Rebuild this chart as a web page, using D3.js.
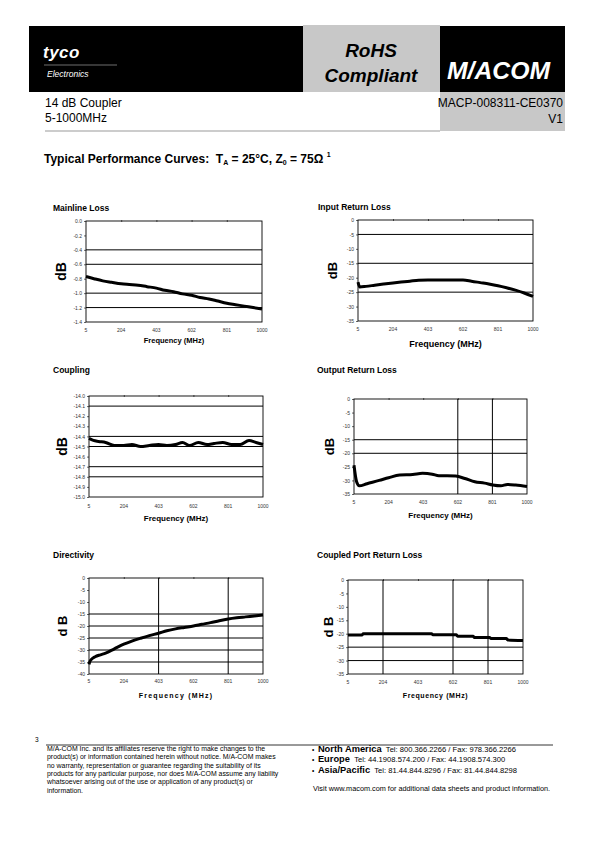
<!DOCTYPE html>
<html><head><meta charset="utf-8">
<script src="https://cdn.jsdelivr.net/npm/d3@7"></script>
<style>body{margin:0;background:#fff} svg{display:block;font-family:"Liberation Sans",Arial,sans-serif}</style>
</head><body><svg id="c" width="595" height="842"></svg>
<script>
// ---------- DATA ----------
const xTicks = [5, 204, 403, 602, 801, 1000];

const mainlineFreq = [5,50,100,150,204,250,300,350,403,450,500,550,602,650,700,750,801,850,900,950,1000];
const mainlineLoss = [-0.77,-0.80,-0.83,-0.85,-0.87,-0.88,-0.89,-0.91,-0.93,-0.96,-0.98,-1.01,-1.03,-1.06,-1.08,-1.11,-1.14,-1.16,-1.18,-1.20,-1.22];
const mainlineTicks = [0,-0.2,-0.4,-0.6,-0.8,-1.0,-1.2,-1.4];

const inputFreq = [5,15,50,100,150,204,250,300,350,403,450,500,550,602,650,700,750,801,850,900,950,1000];
const inputRL = [-21.5,-23.2,-23.0,-22.6,-22.2,-21.8,-21.5,-21.2,-20.9,-20.8,-20.8,-20.8,-20.8,-20.8,-21.2,-21.7,-22.2,-22.8,-23.5,-24.3,-25.3,-26.5];
const rlTicks = [0,-5,-10,-15,-20,-25,-30,-35];

const couplingFreq = [5,30,60,100,150,204,250,300,350,403,450,500,540,580,630,680,720,770,820,870,920,960,1000];
const coupling = [-14.42,-14.44,-14.45,-14.46,-14.49,-14.49,-14.48,-14.50,-14.49,-14.48,-14.49,-14.48,-14.46,-14.49,-14.46,-14.48,-14.47,-14.46,-14.48,-14.48,-14.44,-14.46,-14.48];
const couplingTicks = [-14.0,-14.1,-14.2,-14.3,-14.4,-14.5,-14.6,-14.7,-14.8,-14.9,-15.0];

const outputFreq = [5,20,35,80,150,204,268,343,399,455,493,540,590,643,700,756,803,850,887,935,1000];
const outputRL = [-24.4,-30.5,-32.0,-31.2,-30.0,-29.0,-28.0,-27.8,-27.4,-27.7,-28.3,-28.3,-28.4,-29.3,-30.5,-31.0,-31.7,-32.0,-31.5,-31.7,-32.2];

const dirFreq = [5,10,20,40,70,100,150,204,250,300,350,403,450,500,550,602,650,700,750,801,850,900,950,1000];
const directivity = [-36,-34.8,-33.8,-32.8,-32,-31.3,-29.5,-27.6,-26.3,-25.1,-24,-23,-22,-21.2,-20.6,-20,-19.3,-18.6,-17.8,-17.1,-16.6,-16.2,-15.8,-15.4];
const dirTicks = [0,-5,-10,-15,-20,-25,-30,-35,-40];

const cplPortFreq = [5,84,92,480,488,620,628,716,724,810,818,905,913,1000];
const cplPortRL = [-20.5,-20.5,-20.0,-20.0,-20.4,-20.4,-20.9,-20.9,-21.4,-21.4,-21.8,-21.8,-22.3,-22.5];

// ---------- LAYOUT ----------
const charts = [
  {title:"Mainline Loss", tx:53, ty:211, x0:86, x1:262, y0:221, y1:322, freq:mainlineFreq, vals:mainlineLoss, ticks:mainlineTicks,
   fmt:d=>d.toFixed(1), gridY:[-0.4,-0.6,-1.0,-1.2], gridX:[], db:"dB", dbX:66, dbSize:14, xLabY:332, fY:343, fSize:7.5, fSp:0},
  {title:"Input Return Loss", tx:318, ty:210, x0:358, x1:533, y0:220, y1:321, freq:inputFreq, vals:inputRL, ticks:rlTicks,
   fmt:d=>String(d), gridY:[-5,-15,-25], gridX:[], db:"dB", dbX:337, dbSize:13, xLabY:331, fY:347, fSize:9, fSp:0},
  {title:"Coupling", tx:53, ty:373, x0:89, x1:263, y0:396, y1:497, freq:couplingFreq, vals:coupling, ticks:couplingTicks,
   fmt:d=>d.toFixed(1), gridY:[-14.1,-14.4,-14.5,-14.7,-14.8], gridX:[], db:"dB", dbX:67, dbSize:14, xLabY:508, fY:521, fSize:8, fSp:0},
  {title:"Output Return Loss", tx:317, ty:373, x0:354, x1:527, y0:399, y1:494, freq:outputFreq, vals:outputRL, ticks:rlTicks,
   fmt:d=>String(d), gridY:[-15,-20], gridX:[602,801], db:"dB", dbX:334, dbSize:13, xLabY:504, fY:518, fSize:8, fSp:0},
  {title:"Directivity", tx:53, ty:558, x0:89, x1:263, y0:578, y1:674, freq:dirFreq, vals:directivity, ticks:dirTicks,
   fmt:d=>String(d), gridY:[-15,-20,-25,-30,-35], gridX:[403,801], db:"d B", dbX:67, dbSize:13, xLabY:683, fY:698, fSize:7, fSp:1.2},
  {title:"Coupled Port Return Loss", tx:317, ty:558, x0:348, x1:523, y0:580, y1:674, freq:cplPortFreq, vals:cplPortRL, ticks:rlTicks,
   fmt:d=>String(d), gridY:[-25,-30], gridX:[204,602,801], db:"d B", dbX:333, dbSize:13, xLabY:684, fY:698, fSize:7, fSp:0.6}
];

const svg = d3.select("#c");

// ---------- HEADER ----------
svg.append("rect").attr("x",29).attr("y",26).attr("width",536).attr("height",66).attr("fill","#000");
svg.append("rect").attr("x",303).attr("y",25).attr("width",137).attr("height",67).attr("fill","#c8c8c8");
svg.append("text").attr("x",43).attr("y",58).attr("fill","#fff").attr("font-size",17).attr("font-weight","bold").attr("font-style","italic").attr("letter-spacing",0.5).text("tyco");
svg.append("line").attr("x1",44).attr("x2",117).attr("y1",65).attr("y2",65).attr("stroke","#bbb").attr("stroke-width",0.6);
svg.append("text").attr("x",47).attr("y",77).attr("fill","#fff").attr("font-size",8.5).attr("font-style","italic").text("Electronics");
svg.append("text").attr("x",371).attr("y",57).attr("text-anchor","middle").attr("font-size",19).attr("font-weight","bold").attr("font-style","italic").text("RoHS");
svg.append("text").attr("x",371).attr("y",82).attr("text-anchor","middle").attr("font-size",19).attr("font-weight","bold").attr("font-style","italic").text("Compliant");
svg.append("text").attr("x",447).attr("y",79).attr("fill","#fff").attr("font-size",23).attr("font-weight","bold").attr("font-style","italic")
  .attr("textLength",103).attr("lengthAdjust","spacingAndGlyphs").text("M/ACOM");
svg.append("rect").attr("x",440).attr("y",92).attr("width",125).attr("height",39).attr("fill","#c8c8c8");
svg.append("line").attr("x1",45).attr("x2",440).attr("y1",131).attr("y2",131).attr("stroke","#999").attr("stroke-width",1);
svg.append("text").attr("x",45).attr("y",107).attr("font-size",12).text("14 dB Coupler");
svg.append("text").attr("x",45).attr("y",122).attr("font-size",12).text("5-1000MHz");
svg.append("text").attr("x",563).attr("y",107).attr("text-anchor","end").attr("font-size",12).text("MACP-008311-CE0370");
svg.append("text").attr("x",563).attr("y",123).attr("text-anchor","end").attr("font-size",12).text("V1");

// ---------- TITLE ----------
const tt = svg.append("text").attr("x",44).attr("y",163).attr("font-size",12).attr("font-weight","bold");
tt.append("tspan").text("Typical Performance Curves:\u00a0\u00a0T");
tt.append("tspan").attr("font-size",7).attr("dy",2).text("A");
tt.append("tspan").attr("dy",-2).text(" = 25°C, Z");
tt.append("tspan").attr("font-size",7).attr("dy",2).text("0");
tt.append("tspan").attr("dy",-2).text(" = 75Ω ");
tt.append("tspan").attr("font-size",7).attr("dy",-6).text("1");

// ---------- CHARTS ----------
charts.forEach(c => {
  const dom = d3.extent(c.ticks);
  const x = d3.scaleLinear().domain([5,1000]).range([c.x0,c.x1]);
  const y = d3.scaleLinear().domain(dom).range([c.y1,c.y0]);
  const g = svg.append("g");
  g.append("text").attr("x",c.tx).attr("y",c.ty).attr("font-size",8.5).attr("font-weight","bold").text(c.title);
  g.selectAll(".gy").data(c.gridY).enter().append("line")
    .attr("x1",c.x0).attr("x2",c.x1).attr("y1",d=>y(d)).attr("y2",d=>y(d)).attr("stroke","#000").attr("stroke-width",1);
  g.selectAll(".gx").data(c.gridX).enter().append("line")
    .attr("y1",c.y0).attr("y2",c.y1).attr("x1",d=>x(d)).attr("x2",d=>x(d)).attr("stroke","#000").attr("stroke-width",1);
  g.append("rect").attr("x",c.x0).attr("y",c.y0).attr("width",c.x1-c.x0).attr("height",c.y1-c.y0)
    .attr("fill","none").attr("stroke","#000").attr("stroke-width",0.9);
  const ya = d3.axisLeft(y).tickValues(c.ticks).tickFormat(c.fmt).tickSize(2).tickPadding(2);
  const yg = g.append("g").attr("transform",`translate(${c.x0},0)`).call(ya);
  yg.select(".domain").remove();
  yg.selectAll("text").attr("font-size",5).attr("fill","#333");
  yg.selectAll("line").attr("stroke-width",0.6);
  const ta = d3.axisTop(x).tickValues(xTicks.slice(1,-1)).tickSize(2).tickFormat("");
  const tg = g.append("g").attr("transform",`translate(0,${c.y0+1})`).call(ta);
  tg.select(".domain").remove();
  tg.selectAll("line").attr("stroke-width",0.6);
  g.selectAll(".xl").data(xTicks).enter().append("text")
    .attr("x",d=>x(d)).attr("y",c.xLabY).attr("text-anchor","middle").attr("font-size",5).attr("fill","#333").text(d=>d);
  g.append("text").attr("x",(c.x0+c.x1)/2).attr("y",c.fY).attr("text-anchor","middle").attr("font-size",c.fSize)
    .attr("font-weight","bold").attr("letter-spacing",c.fSp).text("Frequency (MHz)");
  g.append("text").attr("transform",`translate(${c.dbX},${(c.y0+c.y1)/2}) rotate(-90)`).attr("text-anchor","middle")
    .attr("font-size",c.dbSize).attr("font-weight","bold").text(c.db);
  const line = d3.line().x(d=>x(d[0])).y(d=>y(d[1])).curve(d3.curveMonotoneX);
  g.append("path").datum(d3.zip(c.freq,c.vals)).attr("d",line).attr("fill","none")
    .attr("stroke","#000").attr("stroke-width",3).attr("stroke-linejoin","round");
});

// ---------- FOOTER ----------
svg.append("text").attr("x",35).attr("y",742).attr("font-size",6.5).text("3");
svg.append("line").attr("x1",46).attr("x2",553).attr("y1",745).attr("y2",745).attr("stroke","#000").attr("stroke-width",0.8);
const disc = ["M/A-COM Inc. and its affiliates reserve the right to make changes to the",
 "product(s) or information contained herein without notice. M/A-COM makes",
 "no warranty, representation or guarantee regarding the suitability of its",
 "products for any particular purpose, nor does M/A-COM assume any liability",
 "whatsoever arising out of the use or application of any product(s) or",
 "information."];
svg.selectAll(".disc").data(disc).enter().append("text").attr("x",47).attr("y",(d,i)=>751+i*8.3)
  .attr("font-size",6.9).text(d=>d);
const contacts = [["North America","Tel: 800.366.2266 / Fax: 978.366.2266"],
 ["Europe","Tel: 44.1908.574.200 / Fax: 44.1908.574.300"],
 ["Asia/Pacific","Tel: 81.44.844.8296 / Fax: 81.44.844.8298"]];
contacts.forEach((c,i)=>{
  const t = svg.append("text").attr("x",312).attr("y",752+i*10.3);
  t.append("tspan").attr("font-size",6.5).text("•\u00a0\u00a0");
  t.append("tspan").attr("font-size",9.3).attr("font-weight","bold").text(c[0]);
  t.append("tspan").attr("font-size",7.6).text("\u00a0\u00a0"+c[1]);
});
svg.append("text").attr("x",313).attr("y",791).attr("font-size",7.3).text("Visit www.macom.com for additional data sheets and product information.");
</script></body></html>
